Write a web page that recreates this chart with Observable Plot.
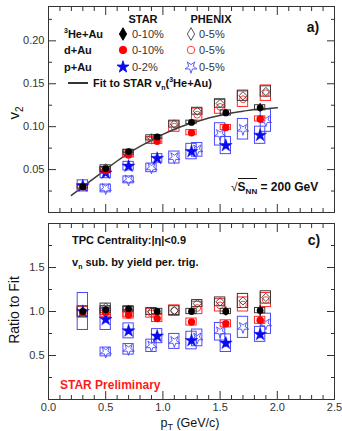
<!DOCTYPE html>
<html><head><meta charset="utf-8">
<script src="https://cdn.jsdelivr.net/npm/d3@7"></script>
<script src="https://cdn.jsdelivr.net/npm/@observablehq/plot@0.6"></script>
<style>
body{margin:0;background:#fff;font-family:"Liberation Sans",Arial,Helvetica,sans-serif}
#wrap{position:relative;width:342px;height:431px;overflow:hidden}
#wrap svg{display:block}
.t{position:absolute;white-space:nowrap;line-height:1;color:#111;transform:translateY(-50%)}
.b{font-weight:bold}
.sym{position:absolute;transform:translate(-50%,-50%)}
sub,sup{line-height:0}
</style></head><body><div id="wrap"></div>
<script>
// ---------- data ----------
const starX = [0.3, 0.5, 0.7, 0.95, 1.25, 1.55, 1.85];
const starHeV2 = [0.030, 0.051, 0.071, 0.088, 0.105, 0.116, 0.122];
const starHeV2Err = [0.001, 0.002, 0.002, 0.002, 0.003, 0.004, 0.005];
const starHeV2Sys = [0.002, 0.002, 0.002, 0.002, 0.002, 0.003, 0.003];
const starDV2 = [0.030, 0.049, 0.067, 0.083, 0.093, 0.099, 0.109];
const starDV2Err = [0.001, 0.002, 0.002, 0.002, 0.003, 0.003, 0.004];
const starDV2Sys = [0.003, 0.003, 0.003, 0.003, 0.003, 0.003, 0.003];
const starPV2 = [0.031, 0.046, 0.054, 0.063, 0.071, 0.078, 0.090];
const starPV2Err = [0.002, 0.002, 0.002, 0.003, 0.003, 0.004, 0.004];
const starPV2Sys = [0.0065, 0.006, 0.005, 0.005, 0.009, 0.010, 0.010];

const starHeR = [1.00, 1.02, 1.03, 1.00, 1.00, 1.00, 1.01];
const starHeRErr = [0.03, 0.03, 0.03, 0.03, 0.04, 0.05, 0.06];
const starHeRSys = [0.06, 0.04, 0.03, 0.03, 0.03, 0.03, 0.03];
const starDR = [0.99, 0.99, 0.96, 0.92, 0.88, 0.86, 0.90];
const starDRErr = [0.03, 0.03, 0.03, 0.03, 0.03, 0.03, 0.04];
const starDRSys = [0.06, 0.05, 0.04, 0.04, 0.04, 0.04, 0.04];
const starPR = [1.00, 0.91, 0.78, 0.72, 0.67, 0.64, 0.74];
const starPRErr = [0.04, 0.04, 0.04, 0.04, 0.04, 0.05, 0.05];
const starPRSys = [0.21, 0.12, 0.085, 0.08, 0.10, 0.10, 0.085];

const phxX = [0.5, 0.7, 0.9, 1.1, 1.3, 1.5, 1.7, 1.9];
const phxHeV2 = [0.052, 0.070, 0.087, 0.103, 0.118, 0.127, 0.136, 0.141];
const phxHeV2Sys = [0.003, 0.003, 0.003, 0.004, 0.004, 0.005, 0.006, 0.006];
const phxDV2 = [0.050, 0.068, 0.084, 0.100, 0.114, 0.123, 0.132, 0.139];
const phxDV2Sys = [0.003, 0.003, 0.004, 0.006, 0.007, 0.008, 0.009, 0.009];
const phxPV2 = [0.028, 0.038, 0.052, 0.064, 0.073, 0.091, 0.097, 0.107];
const phxPV2Sys = [0.0045, 0.004, 0.005, 0.007, 0.008, 0.013, 0.012, 0.013];

const phxHeR = [1.05, 1.02, 1.00, 1.01, 1.09, 1.11, 1.12, 1.16];
const phxHeRSys = [0.04, 0.03, 0.04, 0.05, 0.04, 0.05, 0.08, 0.07];
const phxDR = [1.00, 0.98, 0.98, 1.01, 1.04, 1.07, 1.08, 1.13];
const phxDRSys = [0.04, 0.04, 0.05, 0.06, 0.07, 0.07, 0.08, 0.08];
const phxPR = [0.54, 0.57, 0.61, 0.66, 0.70, 0.77, 0.82, 0.86];
const phxPRSys = [0.05, 0.06, 0.07, 0.085, 0.095, 0.10, 0.12, 0.115];

const fitX = [0.2, 0.3, 0.4, 0.5, 0.6, 0.7, 0.8, 0.9, 1.0, 1.1, 1.2, 1.3, 1.4, 1.5, 1.6, 1.7, 1.8, 1.9, 2.0];
const fitV2 = [0.020, 0.030, 0.040, 0.050, 0.060, 0.069, 0.077, 0.084, 0.091, 0.097, 0.102, 0.106, 0.110, 0.113, 0.116, 0.118, 0.120, 0.121, 0.122];

const xMajor = [0, 0.5, 1.0, 1.5, 2.0, 2.5];
const xMinor = [0.1,0.2,0.3,0.4,0.6,0.7,0.8,0.9,1.1,1.2,1.3,1.4,1.6,1.7,1.8,1.9,2.1,2.2,2.3,2.4];
const yTopMajor = [0.05, 0.10, 0.15, 0.20];
const yTopMinor = [0.025, 0.075, 0.125, 0.175, 0.225];
const yBotMajor = [0.5, 1.0, 1.5];
const yBotMinor = [0.25, 0.75, 1.25, 1.75];

// ---------- helpers ----------
const HW = 0.045;
const rows = (x, y, sys, err) => x.map((xi, i) => ({
  x: xi, y: y[i], lo: y[i] - sys[i], hi: y[i] + sys[i],
  e1: err ? y[i] - err[i] : null, e2: err ? y[i] + err[i] : null
}));
const boxes = (r, color) => Plot.rect(r, {x1: d => d.x - HW, x2: d => d.x + HW, y1: "lo", y2: "hi", fill: "none", stroke: color, strokeWidth: 1});
const errs = (r, color) => Plot.ruleX(r, {x: "x", y1: "e1", y2: "e2", stroke: color, strokeWidth: 1.2});
const AX = "#333";
const none = () => "";
function tickAxes(yMaj, yMin) {
  return [
    Plot.axisY({ticks: yMaj, anchor: "left", tickSize: 8, dx: 8, tickFormat: none, label: null, stroke: AX}),
    Plot.axisY({ticks: yMin, anchor: "left", tickSize: 4, dx: 4, tickFormat: none, label: null, stroke: AX}),
    Plot.axisY({ticks: yMaj, anchor: "right", tickSize: 8, dx: -8, tickFormat: none, label: null, stroke: AX}),
    Plot.axisY({ticks: yMin, anchor: "right", tickSize: 4, dx: -4, tickFormat: none, label: null, stroke: AX}),
    Plot.axisX({ticks: xMajor, anchor: "bottom", tickSize: 8, dy: -8, tickFormat: none, label: null, stroke: AX}),
    Plot.axisX({ticks: xMinor, anchor: "bottom", tickSize: 4, dy: -4, tickFormat: none, label: null, stroke: AX}),
    Plot.axisX({ticks: xMajor, anchor: "top", tickSize: 8, dy: 8, tickFormat: none, label: null, stroke: AX}),
    Plot.axisX({ticks: xMinor, anchor: "top", tickSize: 4, dy: 4, tickFormat: none, label: null, stroke: AX})
  ];
}
const C = {black: "#000", red: "#ff0000", redBox: "#ff2a2a", blue: "#0a0aee", blueBox: "#4a4aff", gray: "#3a3a3a"};

function panel(which) {
  const isTop = which === "top";
  const sHe = rows(starX, isTop ? starHeV2 : starHeR, isTop ? starHeV2Sys : starHeRSys, isTop ? starHeV2Err : starHeRErr);
  const sD = rows(starX, isTop ? starDV2 : starDR, isTop ? starDV2Sys : starDRSys, isTop ? starDV2Err : starDRErr);
  const sP = rows(starX, isTop ? starPV2 : starPR, isTop ? starPV2Sys : starPRSys, isTop ? starPV2Err : starPRErr);
  const pHe = rows(phxX, isTop ? phxHeV2 : phxHeR, isTop ? phxHeV2Sys : phxHeRSys);
  const pD = rows(phxX, isTop ? phxDV2 : phxDR, isTop ? phxDV2Sys : phxDRSys);
  const pP = rows(phxX, isTop ? phxPV2 : phxPR, isTop ? phxPV2Sys : phxPRSys);
  const marks = [
    boxes(pP, C.blueBox), boxes(pD, C.redBox), boxes(pHe, C.gray),
    Plot.dot(pP, {x: "x", y: "y", symbol: "star", r: 3.6, rotate: 180, fill: "none", stroke: C.blueBox, strokeWidth: 0.9}),
    Plot.dot(pD, {x: "x", y: "y", symbol: "circle", r: 3.4, fill: "none", stroke: C.redBox, strokeWidth: 0.9}),
    Plot.dot(pHe, {x: "x", y: "y", symbol: "diamond2", r: 3.7, fill: "none", stroke: C.gray, strokeWidth: 0.9}),
    boxes(sP, C.blueBox), boxes(sD, C.redBox), boxes(sHe, C.gray),
    errs(sP, C.blue), errs(sD, C.red), errs(sHe, C.black),
    Plot.dot(sP, {x: "x", y: "y", symbol: "star", r: 4, fill: C.blue, stroke: C.blue, strokeWidth: 0.5}),
    Plot.dot(sD, {x: "x", y: "y", symbol: "circle", r: 3.7, fill: C.red}),
    Plot.dot(sHe, {x: "x", y: "y", symbol: "circle", r: 3.4, fill: C.black}),
    Plot.frame({stroke: AX, strokeWidth: 1}),
    ...tickAxes(isTop ? yTopMajor : yBotMajor, isTop ? yTopMinor : yBotMinor),
    Plot.axisY({ticks: isTop ? yTopMajor : yBotMajor, anchor: "left", tickSize: 0, tickPadding: 4,
      tickFormat: d3.format(isTop ? ".2f" : ".1f"), label: null, fill: AX, fontSize: 11})
  ];
  if (isTop) {
    marks.splice(6, 0, Plot.line(fitX.map((x, i) => ({x, y: fitV2[i]})), {x: "x", y: "y", stroke: "#3c3c3c", strokeWidth: 1.5, curve: "monotone-x"}));
  } else {
    marks.push(Plot.axisX({ticks: xMajor, anchor: "bottom", tickSize: 0, tickPadding: 4, tickFormat: d3.format(".1f"), label: null, fill: AX, fontSize: 11}));
  }
  return Plot.plot({
    width: 342, height: isTop ? 215 : 216,
    marginTop: isTop ? 6 : 8, marginBottom: isTop ? 3 : 32, marginLeft: 48, marginRight: 8,
    x: {domain: [0, 2.5]},
    y: {domain: isTop ? [0, 0.24] : [0, 2.0]},
    style: {fontFamily: "Liberation Sans, Arial, sans-serif", fontSize: "11px", background: "#fff", overflow: "visible"},
    marks
  });
}

const wrap = document.getElementById("wrap");
wrap.appendChild(panel("top"));
wrap.appendChild(panel("bottom"));

// ---------- overlay texts / legend ----------
function txt(html, x, y, size, cls = "b", extra = "") {
  const d = document.createElement("div");
  d.className = "t " + cls;
  d.style.left = x + "px"; d.style.top = y + "px"; d.style.fontSize = size + "px";
  if (extra) d.style.cssText += extra;
  d.innerHTML = html;
  wrap.appendChild(d);
  return d;
}
function sym(type, x, y, fill, stroke, size, rot = 0) {
  const s = d3.symbol(type, size)();
  const d = document.createElement("div");
  d.className = "sym"; d.style.left = x + "px"; d.style.top = y + "px";
  d.innerHTML = `<svg width="14" height="14" style="display:block"><path transform="translate(7,7) rotate(${rot})" d="${s}" fill="${fill}" stroke="${stroke}" stroke-width="0.9"/></svg>`;
  wrap.appendChild(d);
}
const centerX = el => { el.style.transform = "translate(-50%,-50%)"; };

centerX(txt("STAR", 143, 19, 11));
centerX(txt("PHENIX", 211, 19, 11));
txt("<sup style='font-size:7px'>3</sup>He+Au", 64, 34, 11);
txt("d+Au", 64, 50, 11);
txt("p+Au", 64, 67, 11);
sym(d3.symbolDiamond, 123, 34, "#000", "#000", 46);
sym(d3.symbolCircle, 123, 50, C.red, C.red, 44);
sym(d3.symbolStar, 123, 67, C.blue, C.blue, 44);
txt("0-10%", 132, 34, 11, "", "color:#333");
txt("0-10%", 132, 50, 11, "", "color:#333");
txt("0-2%", 132, 67, 11, "", "color:#333");
sym(d3.symbolDiamond, 191, 34, "none", "#444", 46);
sym(d3.symbolCircle, 191, 50, "none", C.redBox, 44);
sym(d3.symbolStar, 191, 67, "none", C.blueBox, 44, 180);
txt("0-5%", 199, 34, 11, "", "color:#333");
txt("0-5%", 199, 50, 11, "", "color:#333");
txt("0-5%", 199, 67, 11, "", "color:#333");
{
  const l = document.createElement("div");
  l.style.cssText = "position:absolute;left:68px;top:82px;width:20px;height:2px;background:#333";
  wrap.appendChild(l);
}
txt("Fit to STAR v<sub style='font-size:7px'>n</sub>(<sup style='font-size:7px'>3</sup>He+Au)", 93, 83, 11);
centerX(txt("a)", 313, 27, 14));
txt("<span style='font-weight:normal'>√</span><span style='border-top:1px solid #111;padding-top:1px'>S<sub style='font-size:8px'>NN</sub></span> = 200 GeV", 231, 187, 12);

txt("TPC Centrality:|η|&lt;0.9", 72, 240, 11);
txt("v<sub style='font-size:7px'>n</sub> sub. by yield per. trig.", 72, 262, 11);
centerX(txt("c)", 314, 240, 14));
txt("STAR Preliminary", 60, 385, 12, "b", "color:#ff1a1a");

// axis titles
const yt1 = txt("v<sub style='font-size:10px'>2</sub>", 13, 113, 15, "");
yt1.style.transform = "translate(-50%,-50%) rotate(-90deg)";
const yt2 = txt("Ratio to Fit", 14, 310, 14, "");
yt2.style.transform = "translate(-50%,-50%) rotate(-90deg)";
centerX(txt("p<sub style='font-size:9px'>T</sub> (GeV/c)", 190, 423, 12.5, ""));
</script>
</body></html>
